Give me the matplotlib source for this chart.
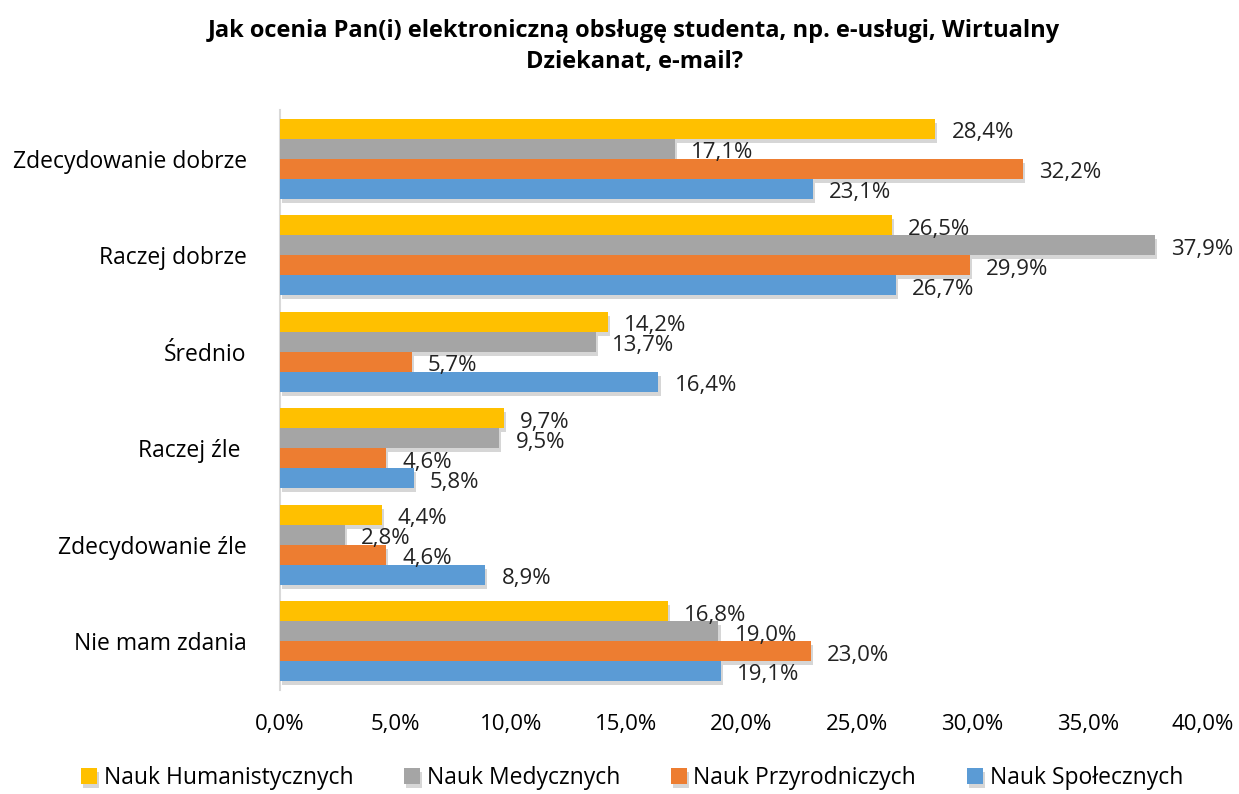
import matplotlib
matplotlib.use("Agg")
import matplotlib.pyplot as plt
import matplotlib.patheffects as pe
import numpy as np

plt.rcParams['font.family'] = ['Open Sans', 'DejaVu Sans']

categories = ["Zdecydowanie dobrze", "Raczej dobrze", "Średnio", "Raczej źle ",
              "Zdecydowanie źle", "Nie mam zdania"]
series_names = ["Nauk Humanistycznych", "Nauk Medycznych", "Nauk Przyrodniczych", "Nauk Społecznych"]
humanistycznych = [28.4, 26.5, 14.2, 9.7, 4.4, 16.8]
medycznych = [17.1, 37.9, 13.7, 9.5, 2.8, 19.0]
przyrodniczych = [32.2, 29.9, 5.7, 4.6, 4.6, 23.0]
spolecznych = [23.1, 26.7, 16.4, 5.8, 8.9, 19.1]
xticks = [0, 5, 10, 15, 20, 25, 30, 35, 40]

series = [humanistycznych, medycznych, przyrodniczych, spolecznych]
colors = ["#FFC000", "#A5A5A5", "#ED7D31", "#5B9BD5"]

fig = plt.figure(figsize=(12.39, 7.94), dpi=100)
ax = fig.add_axes([0.226, 0.131, 0.745, 0.7305])

n = len(categories)
centers = np.arange(n)
bh = 0.207
offsets = [-1.5 * bh, -0.5 * bh, 0.5 * bh, 1.5 * bh]

shadow = [pe.SimplePatchShadow(offset=(1.5, -3), shadow_rgbFace='#999999', alpha=0.4), pe.Normal()]
for vals, col, off, name in zip(series, colors, offsets, series_names):
    bars = ax.barh(centers + off, vals, height=bh, color=col, label=name, zorder=3)
    for b in bars:
        b.set_path_effects(shadow)
    for y, v in zip(centers + off, vals):
        ax.text(v + 0.7, y + 0.04, f"{v:.1f}%".replace(".", ","), va='center', ha='left',
                fontsize=16, color='#222222', zorder=4)

ax.set_ylim(n - 0.5 + 0.006, -0.506)
ax.set_xlim(0, 40)
ax.set_yticks(centers)
ax.set_yticklabels(categories, fontsize=16.5)
ax.set_xticks(xticks)
ax.set_xticklabels([f"{t:.1f}%".replace(".", ",") for t in xticks], fontsize=16)
ax.tick_params(axis='both', length=0)
ax.tick_params(axis='x', pad=17)
ax.tick_params(axis='y', pad=24)
for s in ['top', 'right', 'bottom']:
    ax.spines[s].set_visible(False)
ax.spines['left'].set_color('#D9D9D9')
ax.spines['left'].set_linewidth(1.5)

fig.suptitle("Jak ocenia Pan(i) elektroniczną obsługę studenta, np. e-usługi, Wirtualny\nDziekanat, e-mail?",
             fontsize=17, fontweight='bold', y=0.976, x=0.512, linespacing=1.4)

leg = fig.legend(loc='lower center', ncol=4, bbox_to_anchor=(0.51, -0.021), frameon=False,
                 fontsize=16.5, handlelength=0.7, handleheight=0.7, handletextpad=0.3,
                 columnspacing=2.2)

fig.savefig("out.png", dpi=100)
